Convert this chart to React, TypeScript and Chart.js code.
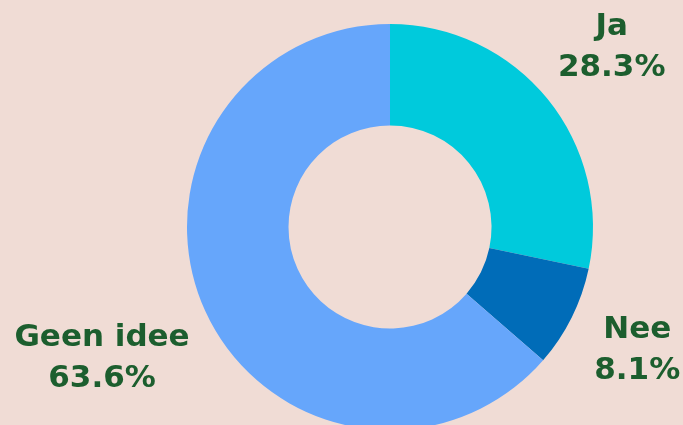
import React, { useEffect, useRef } from "react";
import { Chart, registerables } from "chart.js";

Chart.register(...registerables);

const categories = ["Ja", "Nee", "Geen idee"];
const values = [28.3, 8.1, 63.6];
const valueLabels = ["28.3%", "8.1%", "63.6%"];
const colors = ["#00CADC", "#006CB8", "#66A6FB"];

const BG = "#F0DCD5";
const TEXT = "#1C5E2E";
const FONT = "bold 31px 'DejaVu Sans', sans-serif";
const LINE_H = 41;

const labelPlugin = {
  id: "outerLabels",
  afterDatasetsDraw(chart: any) {
    const ctx = chart.ctx as CanvasRenderingContext2D;
    const meta = chart.getDatasetMeta(0);
    ctx.save();
    ctx.font = FONT;
    ctx.fillStyle = TEXT;
    ctx.textAlign = "center";
    ctx.textBaseline = "middle";
    meta.data.forEach((arc: any, i: number) => {
      const p = arc.getProps(["x", "y", "startAngle", "endAngle", "outerRadius"], true);
      const mid = (p.startAngle + p.endAngle) / 2;
      const ux = Math.cos(mid);
      const uy = Math.sin(mid);
      const lines = [categories[i], valueLabels[i]];
      const w = Math.max(...lines.map((l) => ctx.measureText(l).width)) / 2;
      const h = 33;
      const d = p.outerRadius + 20 + Math.abs(ux) * w + Math.abs(uy) * h;
      const cx = p.x + ux * d;
      const cy = p.y + uy * d;
      lines.forEach((l, k) => {
        ctx.fillText(l, cx, cy + (k - (lines.length - 1) / 2) * LINE_H);
      });
    });
    ctx.restore();
  },
};

export default function App() {
  const ref = useRef<HTMLCanvasElement | null>(null);
  useEffect(() => {
    document.body.style.margin = "0";
    document.body.style.background = BG;
    document.body.style.overflow = "hidden";
    const chart = new Chart(ref.current!, {
      type: "doughnut",
      data: {
        labels: categories,
        datasets: [
          {
            data: values,
            backgroundColor: colors,
            borderWidth: 0,
          },
        ],
      },
      options: {
        responsive: false,
        animation: false,
        cutout: "50%",
        layout: { padding: { left: 187, right: 90, top: 24, bottom: 30 } },
        plugins: {
          legend: { display: false },
          tooltip: { enabled: false },
        },
      },
      plugins: [labelPlugin],
    });
    return () => chart.destroy();
  }, []);
  return (
    <div style={{ width: 683, height: 425, overflow: "hidden", background: BG }}>
      <canvas ref={ref} width={683} height={460} style={{ display: "block" }} />
    </div>
  );
}
